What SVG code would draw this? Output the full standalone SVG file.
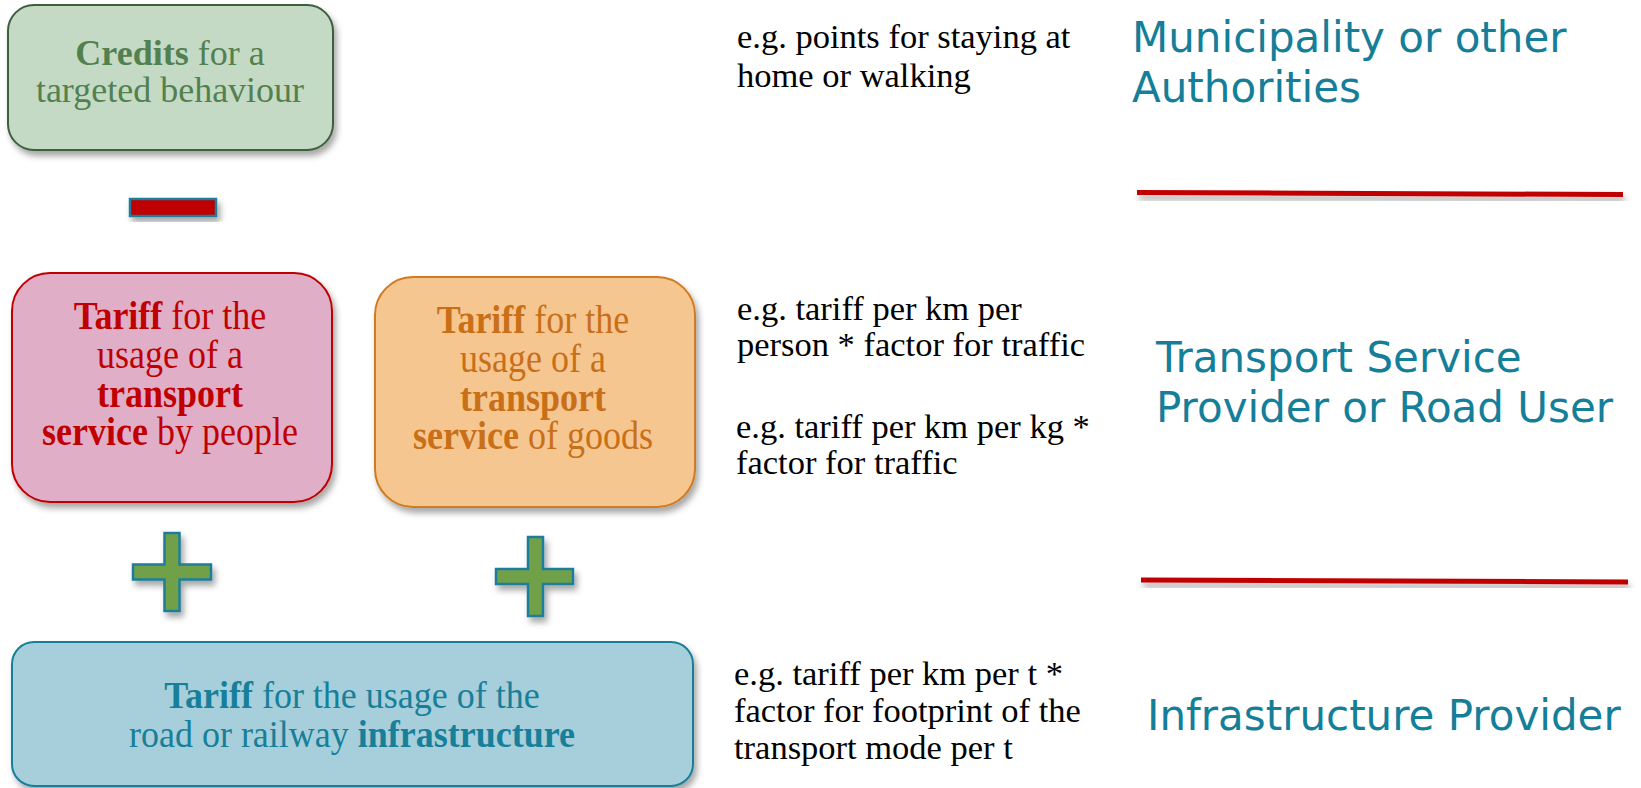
<svg xmlns="http://www.w3.org/2000/svg" width="1641" height="788" viewBox="0 0 1641 788">
<defs>
<filter id="sh" x="-10%" y="-10%" width="130%" height="140%">
<feDropShadow dx="3" dy="5" stdDeviation="3" flood-color="#000" flood-opacity="0.35"/>
</filter>
<filter id="shl" x="-5%" y="-300%" width="110%" height="700%">
<feDropShadow dx="2" dy="5" stdDeviation="3" flood-color="#000" flood-opacity="0.35"/>
</filter>
<style>
.serif{font-family:"Liberation Serif","Times New Roman",serif;}
.box{font-size:36px;text-anchor:middle;}
.note{font-family:"Liberation Serif","Times New Roman",serif;font-size:34.5px;fill:#000;}
.head{font-family:"DejaVu Sans",Verdana,sans-serif;font-size:42px;fill:#157e99;}
.b{font-weight:bold;}
.sign{stroke:#1c7e9c;stroke-width:2.5;filter:url(#sh);}
.rule{stroke:#c00000;stroke-width:5;stroke-linecap:butt;filter:url(#shl);}
</style>
</defs>
<rect width="1641" height="788" fill="#fff"/>

<g id="credits">
<rect x="8" y="5" width="325" height="145" rx="26" fill="#c4dac4" stroke="#3e5f3d" stroke-width="2" filter="url(#sh)"/>
<text class="serif box" x="170" y="65" fill="#52804f" font-size="35.5"><tspan class="b">Credits</tspan> for a</text>
<text class="serif box" x="170" y="102" fill="#52804f" font-size="35.5">targeted behaviour</text>
</g>

<g id="minus">
<rect class="sign" x="130" y="199" width="86" height="17" fill="#c00000"/>
</g>

<g id="tariff-people">
<rect x="12" y="273" width="320" height="229" rx="38" fill="#e1aec8" stroke="#c00000" stroke-width="2" filter="url(#sh)"/>
<text class="serif box" x="170" y="329" fill="#c00000" transform="matrix(1 0 0 1.1 0 -32.9)"><tspan class="b">Tariff</tspan> for the</text>
<text class="serif box" x="170" y="368" fill="#c00000" transform="matrix(1 0 0 1.1 0 -36.8)">usage of a</text>
<text class="serif box b" x="170" y="407" fill="#c00000" transform="matrix(1 0 0 1.1 0 -40.7)">transport</text>
<text class="serif box" x="170" y="445" fill="#c00000" transform="matrix(1 0 0 1.1 0 -44.5)"><tspan class="b">service</tspan> by people</text>
</g>

<g id="tariff-goods">
<rect x="375" y="277" width="320" height="230" rx="38" fill="#f6c690" stroke="#d07a20" stroke-width="2" filter="url(#sh)"/>
<text class="serif box" x="533" y="333" fill="#c86f18" transform="matrix(1 0 0 1.1 0 -33.3)"><tspan class="b">Tariff</tspan> for the</text>
<text class="serif box" x="533" y="372" fill="#c86f18" transform="matrix(1 0 0 1.1 0 -37.2)">usage of a</text>
<text class="serif box b" x="533" y="411" fill="#c86f18" transform="matrix(1 0 0 1.1 0 -41.1)">transport</text>
<text class="serif box" x="533" y="449" fill="#c86f18" transform="matrix(1 0 0 1.1 0 -44.9)"><tspan class="b">service</tspan> of goods</text>
</g>

<g id="plus-1">
<path class="sign" d="M164.5 533 H179.5 V564.5 H211 V579.5 H179.5 V611 H164.5 V579.5 H133 V564.5 H164.5 Z" fill="#70a046"/>
</g>
<g id="plus-2">
<path class="sign" d="M528 537 H543 V569 H573 V584 H543 V616 H528 V584 H496 V569 H528 Z" fill="#70a046"/>
</g>

<g id="tariff-infrastructure">
<rect x="12" y="642" width="681" height="144" rx="22" fill="#a6cfdb" stroke="#177f99" stroke-width="2" filter="url(#sh)"/>
<text class="serif box" x="352" y="708" fill="#177f99" transform="matrix(1 0 0 1.08 0 -56.64)"><tspan class="b">Tariff</tspan> for the usage of the</text>
<text class="serif box" x="352" y="747" fill="#177f99" transform="matrix(1 0 0 1.08 0 -59.76)">road or railway <tspan class="b">infrastructure</tspan></text>
</g>

<g id="notes">
<text class="note" x="737" y="48">e.g. points for staying at</text>
<text class="note" x="737" y="87">home or walking</text>
<text class="note" x="737" y="320">e.g. tariff per km per</text>
<text class="note" x="737" y="356">person * factor for traffic</text>
<text class="note" x="736" y="438">e.g. tariff per km per kg *</text>
<text class="note" x="736" y="474">factor for traffic</text>
<text class="note" x="734" y="685">e.g. tariff per km per t *</text>
<text class="note" x="734" y="722">factor for footprint of the</text>
<text class="note" x="734" y="759">transport mode per t</text>
</g>

<g id="roles">
<text class="head" x="1132" y="52">Municipality or other</text>
<text class="head" x="1132" y="102">Authorities</text>
<text class="head" x="1156" y="372">Transport Service</text>
<text class="head" x="1156" y="422">Provider or Road User</text>
<text class="head" x="1147" y="730">Infrastructure Provider</text>
</g>

<g id="connectors">
<line class="rule" x1="1137" y1="192.5" x2="1623" y2="194.5"/>
<line class="rule" x1="1141" y1="580" x2="1628" y2="582"/>
</g>
</svg>
